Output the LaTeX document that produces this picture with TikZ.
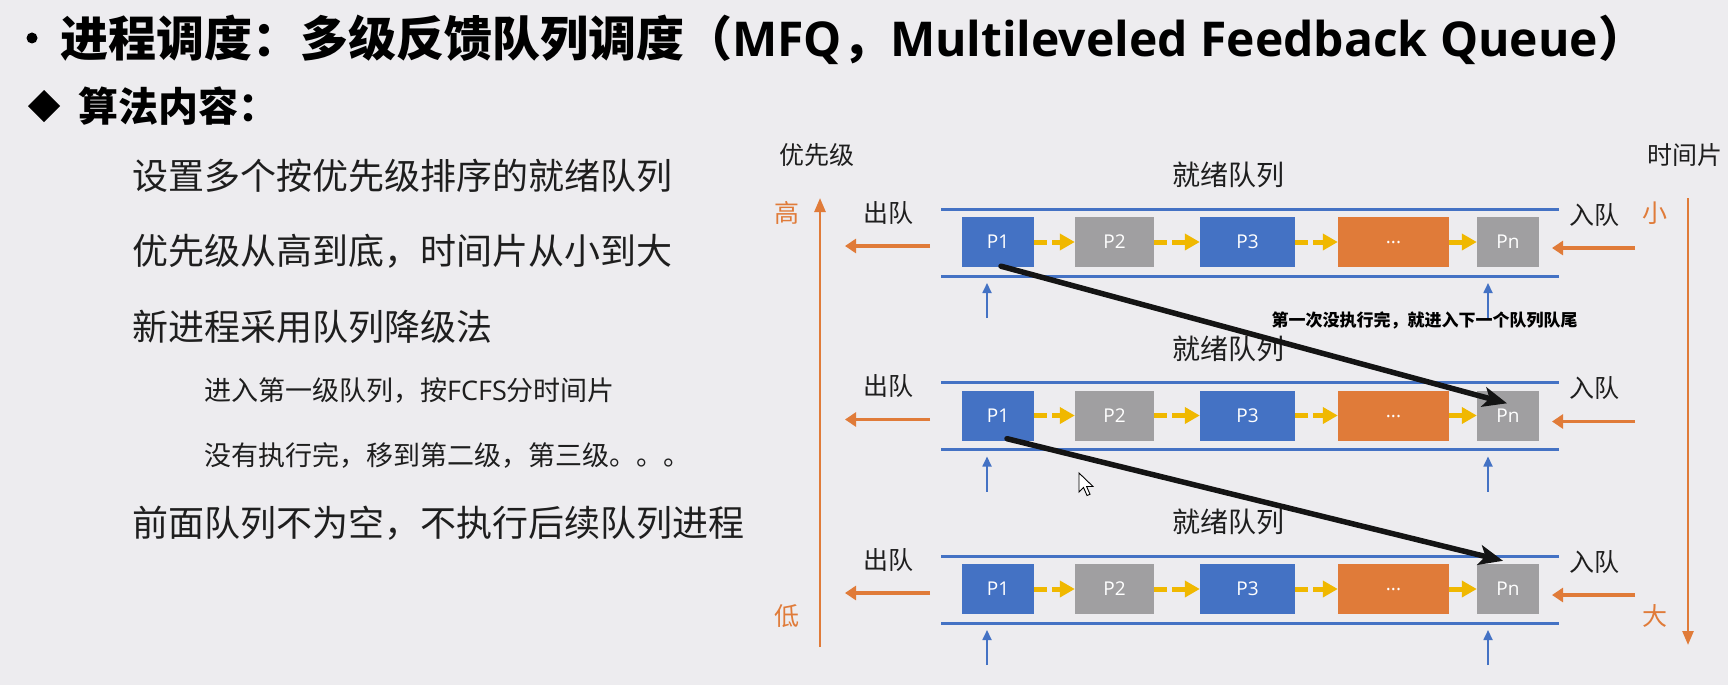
\documentclass[tikz,border=0pt]{standalone}
\usepackage{fontspec}
\setmainfont{Noto Sans CJK SC}
\newfontfamily\latinfont{Open Sans}
\usetikzlibrary{arrows.meta,calc}

\definecolor{bgc}{HTML}{EDECEF}
\definecolor{qblue}{HTML}{4472C4}
\definecolor{qgray}{HTML}{A09FA1}
\definecolor{qorange}{HTML}{E07B39}
\definecolor{qyellow}{HTML}{F0B800}
\definecolor{txt}{HTML}{1E1E1E}

\newcommand\fsz[1]{\fontsize{#1}{#1}\selectfont}

\begin{document}
\begin{tikzpicture}[x=1pt,y=-1pt,
  lefttext/.style={anchor=west,inner sep=0pt,text=txt},
  label/.style={inner sep=0pt,text=txt,font=\fsz{25}},
  orangelabel/.style={inner sep=0pt,text=qorange,font=\fsz{25}},
  qtitle/.style={inner sep=0pt,text=txt,font=\fsz{28}},
  pbox/.style={minimum width=#1,minimum height=50pt,inner sep=0pt,
    text=white,font=\latinfont\fsz{19}},
  qline/.style={qblue,line width=3pt},
  yarrow/.style={qyellow,line width=5pt,dash pattern=on 13pt off 5pt,
    -{Triangle[length=15pt,width=16pt]}},
  oarrow/.style={qorange,line width=3.5pt,-{Triangle[length=11pt,width=14pt]}},
  barrow/.style={qblue,line width=1.8pt,-{Triangle[length=10pt,width=9pt]}},
  vaxis/.style={qorange,line width=2.5pt,-{Triangle[length=14pt,width=11pt]}},
  farrow/.style={black!92,line width=5.5pt,line cap=round,
    -{Stealth[length=24pt,width=20pt,inset=6pt]}},
]
\useasboundingbox[fill=bgc] (0,0) rectangle (1728,685);

% heading
\fill[black] (32,38) circle (5.5);
\node[lefttext,text=black,font=\bfseries\fsz{48}] (title) at (60,40)
  {进程调度：多级反馈队列调度（{\latinfont MFQ}，{\latinfont Multileveled Feedback Queue}）};
\fill[black] (44,90) -- (60,106) -- (44,122) -- (28,106) -- cycle;
\node[lefttext,text=black,font=\bfseries\fsz{40}] (sub) at (78,106) {算法内容：};

% algorithm notes
\node[lefttext,font=\fsz{36}] (l1) at (132,176) {设置多个按优先级排序的就绪队列};
\node[lefttext,font=\fsz{36}] (l2) at (132,251) {优先级从高到底，时间片从小到大};
\node[lefttext,font=\fsz{36}] (l3) at (132,327) {新进程采用队列降级法};
\node[lefttext,font=\fsz{27}] (l4) at (204,391) {进入第一级队列，按{\latinfont FCFS}分时间片};
\node[lefttext,font=\fsz{27}] (l5) at (204,455) {没有执行完，移到第二级，第三级。。。};
\node[lefttext,font=\fsz{36}] (l6) at (132,523) {前面队列不为空，不执行后续队列进程};

% priority / time-slice axes
\node[label] (prio) at (817,155) {优先级};
\node[label] (slice) at (1685,155) {时间片};
\node[orangelabel] (hi) at (787,213) {高};
\node[orangelabel] (lo) at (787,616) {低};
\node[orangelabel] (small) at (1655,213) {小};
\node[orangelabel] (big) at (1655,616) {大};
\coordinate (pbot) at (820,647);
\coordinate (ptop) at (820,198);
\coordinate (stop) at (1688,198);
\coordinate (sbot) at (1688,645);
\draw[vaxis] (pbot) -- (ptop);
\draw[vaxis] (stop) -- (sbot);

% the three ready queues
\foreach \r/\Y in {1/209,2/382.5,3/556}{
  \node[qtitle] (qt-\r) at (1228,\Y-34) {就绪队列};
  \draw[qline] (941,\Y) -- (1559,\Y);
  \draw[qline] (941,\Y+67) -- (1559,\Y+67);
  \node[pbox=72pt,fill=qblue] (p1-\r) at (998,\Y+33) {P1};
  \node[pbox=79pt,fill=qgray] (p2-\r) at (1114.5,\Y+33) {P2};
  \node[pbox=95pt,fill=qblue] (p3-\r) at (1247.5,\Y+33) {P3};
  \node[pbox=111pt,fill=qorange] (dots-\r) at (1393.5,\Y+33) {\raisebox{-4pt}{...}};
  \node[pbox=62pt,fill=qgray] (pn-\r) at (1508,\Y+33) {Pn};
  \draw[yarrow] (p1-\r) -- (p2-\r);
  \draw[yarrow] (p2-\r) -- (p3-\r);
  \draw[yarrow] (p3-\r) -- (dots-\r);
  \draw[yarrow,solid] (dots-\r) -- (pn-\r);
  % dequeue on the left, enqueue on the right
  \node[label] (out-\r) at (888,\Y+4) {出队};
  \node[label] (in-\r) at (1594,\Y+6) {入队};
  \coordinate (oa-\r) at (930,\Y+37);
  \coordinate (ob-\r) at (845,\Y+37);
  \coordinate (ia-\r) at (1635,\Y+39);
  \coordinate (ib-\r) at (1552,\Y+39);
  \draw[oarrow] (oa-\r) -- (ob-\r);
  \draw[oarrow] (ia-\r) -- (ib-\r);
  % arrivals from below
  \coordinate (ba-\r) at (987,\Y+109);
  \coordinate (bb-\r) at (987,\Y+74);
  \coordinate (bc-\r) at (1488,\Y+109);
  \coordinate (bd-\r) at (1488,\Y+74);
  \draw[barrow] (ba-\r) -- (bb-\r);
  \draw[barrow] (bc-\r) -- (bd-\r);
}

% demotion to the tail of the next queue
\draw[farrow] ($(p1-1.south)+(3,-1)$) -- ($(pn-2.north)+(-1,13)$);
\draw[farrow] ($(p1-2.south)+(9,-2)$) -- ($(pn-3.north)+(-5,-3)$);
\node[inner sep=0pt,text=black,font=\bfseries\fsz{17}] (note) at (1424.5,320)
  {第一次没执行完，就进入下一个队列队尾};

% mouse pointer
\draw[black,fill=white,line width=0.9pt,line join=miter]
  (1079,473) -- (1079,492) -- (1083.5,487.5) -- (1087,495.5) -- (1090,494.3)
  -- (1086.6,486.5) -- (1093,486.5) -- cycle;
\end{tikzpicture}
\end{document}
